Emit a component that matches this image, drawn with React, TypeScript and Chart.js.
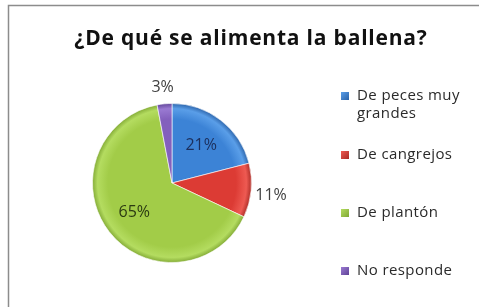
import React, { useEffect, useRef } from "react";
import { Chart, registerables } from "chart.js";

Chart.register(...registerables);

const titleText = "¿De qué se alimenta la ballena?";
const categories = ["De peces muy grandes", "De cangrejos", "De plantón", "No responde"];
const legendLines = [["De peces muy", "grandes"], ["De cangrejos"], ["De plantón"], ["No responde"]];
const values = [21, 11, 65, 3];
const pctLabels = ["21%", "11%", "65%", "3%"];
const baseColors = ["#3c83d6", "#dc3b34", "#a2cc48", "#8360bd"];
const lightColors = ["#5a9ee8", "#ee5a52", "#b4dc60", "#9a7ad2"];
const darkColors = ["#2a62a8", "#a82a24", "#80a834", "#5f4396"];
const labelColors = ["#1c2f5c", "#404040", "#2b3a12", "#404040"];

const FONT = "'Open Sans', Lato, sans-serif";

const decorPlugin = {
  id: "decor",
  beforeDraw(chart: any) {
    const ctx = chart.ctx;
    ctx.save();
    ctx.fillStyle = "#ffffff";
    ctx.fillRect(0, 0, chart.width, chart.height);
    ctx.strokeStyle = "#8c8c8c";
    ctx.lineWidth = 1.5;
    ctx.beginPath();
    ctx.moveTo(8.5, chart.height);
    ctx.lineTo(8.5, 5.5);
    ctx.lineTo(chart.width, 5.5);
    ctx.stroke();
    // title
    ctx.fillStyle = "#111111";
    ctx.font = `bold 21px ${FONT}`;
    (ctx as any).letterSpacing = "0.8px";
    ctx.textAlign = "center";
    ctx.textBaseline = "alphabetic";
    ctx.fillText(titleText, 251, 45);
    ctx.restore();
  },
  afterDatasetsDraw(chart: any) {
    const ctx = chart.ctx;
    const meta = chart.getDatasetMeta(0);
    ctx.save();
    ctx.font = `16px ${FONT}`;
    ctx.textAlign = "center";
    ctx.textBaseline = "middle";
    meta.data.forEach((arc: any, i: number) => {
      const { x, y, startAngle, endAngle, outerRadius } = arc.getProps(
        ["x", "y", "startAngle", "endAngle", "outerRadius"],
        true
      );
      const mid = (startAngle + endAngle) / 2;
      const inside = values[i] > 15;
      const r = inside ? outerRadius * 0.6 : outerRadius + 20;
      ctx.fillStyle = labelColors[i];
      ctx.fillText(pctLabels[i], x + Math.cos(mid) * r, y + Math.sin(mid) * r + (inside ? 0 : 3));
    });
    // legend
    const legendY = [96, 155, 213, 271];
    ctx.font = `15px ${FONT}`;
    (ctx as any).letterSpacing = "0.4px";
    ctx.textAlign = "left";
    categories.forEach((_c, i) => {
      const y0 = legendY[i];
      const g = ctx.createLinearGradient(341, y0 - 4, 349, y0 + 4);
      g.addColorStop(0, lightColors[i]);
      g.addColorStop(1, darkColors[i]);
      ctx.fillStyle = g;
      ctx.fillRect(341, y0 - 4, 8, 8);
      ctx.fillStyle = "#2a2a2a";
      legendLines[i].forEach((line, j) => {
        ctx.fillText(line, 357, y0 + j * 18);
      });
    });
    ctx.restore();
  },
};

export default function App() {
  const ref = useRef<HTMLCanvasElement | null>(null);
  useEffect(() => {
    document.body.style.margin = "0";
    const canvas = ref.current!;
    const chart = new Chart(canvas, {
      type: "pie",
      data: {
        labels: categories,
        datasets: [
          {
            data: values,
            backgroundColor: (c: any) => {
              const i = c.dataIndex;
              const area = c.chart.chartArea;
              if (!area) return baseColors[i];
              const cx = (area.left + area.right) / 2;
              const cy = (area.top + area.bottom) / 2;
              const r = Math.min(area.right - area.left, area.bottom - area.top) / 2;
              const g = c.chart.ctx.createRadialGradient(cx, cy, 0, cx, cy, r);
              g.addColorStop(0, baseColors[i]);
              g.addColorStop(0.8, baseColors[i]);
              g.addColorStop(0.93, lightColors[i]);
              g.addColorStop(1, darkColors[i]);
              return g;
            },
            borderColor: "rgba(255,255,255,0.6)",
            borderWidth: 1,
          },
        ],
      },
      options: {
        responsive: false,
        animation: false,
        layout: { padding: { left: 92, right: 227, top: 103, bottom: 44 } },
        plugins: {
          legend: { display: false },
          tooltip: { enabled: false },
          title: { display: false },
        },
      },
      plugins: [decorPlugin],
    });
    return () => chart.destroy();
  }, []);
  return <canvas ref={ref} width={479} height={307} style={{ display: "block" }} />;
}
